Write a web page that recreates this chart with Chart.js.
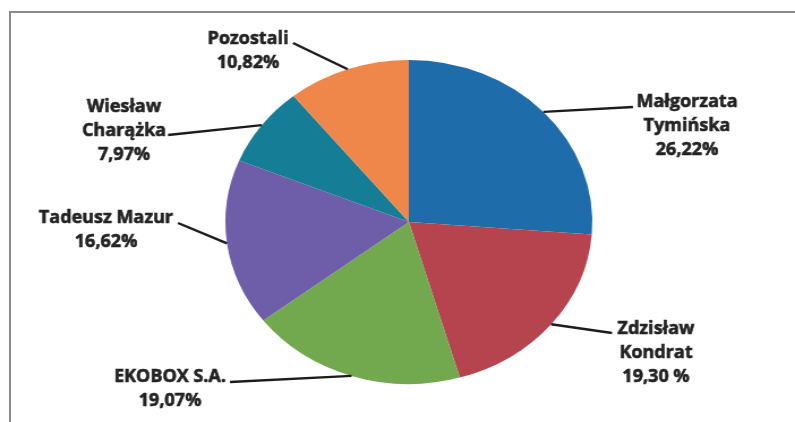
<!DOCTYPE html>
<html lang="pl">
<head>
  <meta charset="UTF-8" />
  <title>Udziały</title>
  <script src="https://cdn.jsdelivr.net/npm/chart.js"></script>
  <style>
    html, body { margin: 0; padding: 0; background: #fff; }
    body { width: 795px; height: 422px; overflow: hidden; position: relative; }
    .frame {
      position: absolute; left: 9px; top: 11px; right: -4px; bottom: -4px;
      border-top: 2px solid #8a8a8a; border-left: 2px solid #8a8a8a;
    }
    /* pie in the scan is an ellipse, so the canvas is stretched horizontally */
    .wrap {
      position: absolute; left: 0; top: 0; width: 702px; height: 422px;
      transform: scaleX(1.1325); transform-origin: 0 0;
    }
  </style>
</head>
<body>
  <div class="frame"></div>
  <div class="wrap"><canvas id="pie" width="702" height="422"></canvas></div>

  <script>
    const STRETCH = 1.1325;

    const names = [
      ["Małgorzata", "Tymińska"],
      ["Zdzisław", "Kondrat"],
      ["EKOBOX S.A."],
      ["Tadeusz Mazur"],
      ["Wiesław", "Charążka"],
      ["Pozostali"]
    ];
    const shares = [26.22, 19.30, 19.07, 16.62, 7.97, 10.82];
    const shareLabels = ["26,22%", "19,30 %", "19,07%", "16,62%", "7,97%", "10,82%"];
    const colors = ["#1f6cab", "#b5444f", "#72a94f", "#6e5ea9", "#157d96", "#ef864a"];

    // where each label block sits (page pixels): centre x, first line y, leader end
    const labelPos = [
      { cx: 687, y: 102, ax: 633, ay: 107 },
      { cx: 656, y: 329, ax: 612, ay: 333 },
      { cx: 170, y: 377, ax: 230, ay: 382 },
      { cx: 106, y: 218, ax: 178, ay: 223 },
      { cx: 124, y: 107, ax: 168, ay: 135 },
      { cx: 248, y: 39,  ax: 293, ay: 43 }
    ];

    const leaderLabels = {
      id: "leaderLabels",
      afterDraw(chart) {
        const ctx = chart.ctx;
        const arcs = chart.getDatasetMeta(0).data;
        arcs.forEach((arc, i) => {
          const p = arc.getProps(["x", "y", "startAngle", "endAngle", "outerRadius"], true);
          const mid = (p.startAngle + p.endAngle) / 2;
          const ex = p.x + Math.cos(mid) * p.outerRadius;
          const ey = p.y + Math.sin(mid) * p.outerRadius;
          const lp = labelPos[i];

          ctx.save();
          ctx.strokeStyle = "#1c1c1c";
          ctx.lineWidth = 2.4;
          ctx.beginPath();
          ctx.moveTo(ex, ey);
          ctx.lineTo(lp.ax / STRETCH, lp.ay);
          ctx.stroke();

          // undo the horizontal stretch for the text
          ctx.scale(1 / STRETCH, 1);
          ctx.fillStyle = "#222";
          ctx.strokeStyle = "#222";
          ctx.lineWidth = 0.6;
          ctx.font = "bold 18px 'Open Sans', sans-serif";
          ctx.textAlign = "center";
          ctx.textBaseline = "middle";
          const lines = names[i].concat([shareLabels[i]]);
          lines.forEach((t, k) => {
            ctx.fillText(t, lp.cx, lp.y + k * 24);
            ctx.strokeText(t, lp.cx, lp.y + k * 24);
          });
          ctx.restore();
        });
      }
    };

    new Chart(document.getElementById("pie"), {
      type: "pie",
      data: {
        labels: names.map(n => n.join(" ")),
        datasets: [{
          data: shares,
          backgroundColor: colors,
          borderWidth: 0
        }]
      },
      options: {
        responsive: false,
        animation: false,
        layout: { padding: { top: 60, bottom: 38, left: 199, right: 179 } },
        plugins: {
          legend: { display: false },
          tooltip: { enabled: false }
        }
      },
      plugins: [leaderLabels]
    });
  </script>
</body>
</html>
